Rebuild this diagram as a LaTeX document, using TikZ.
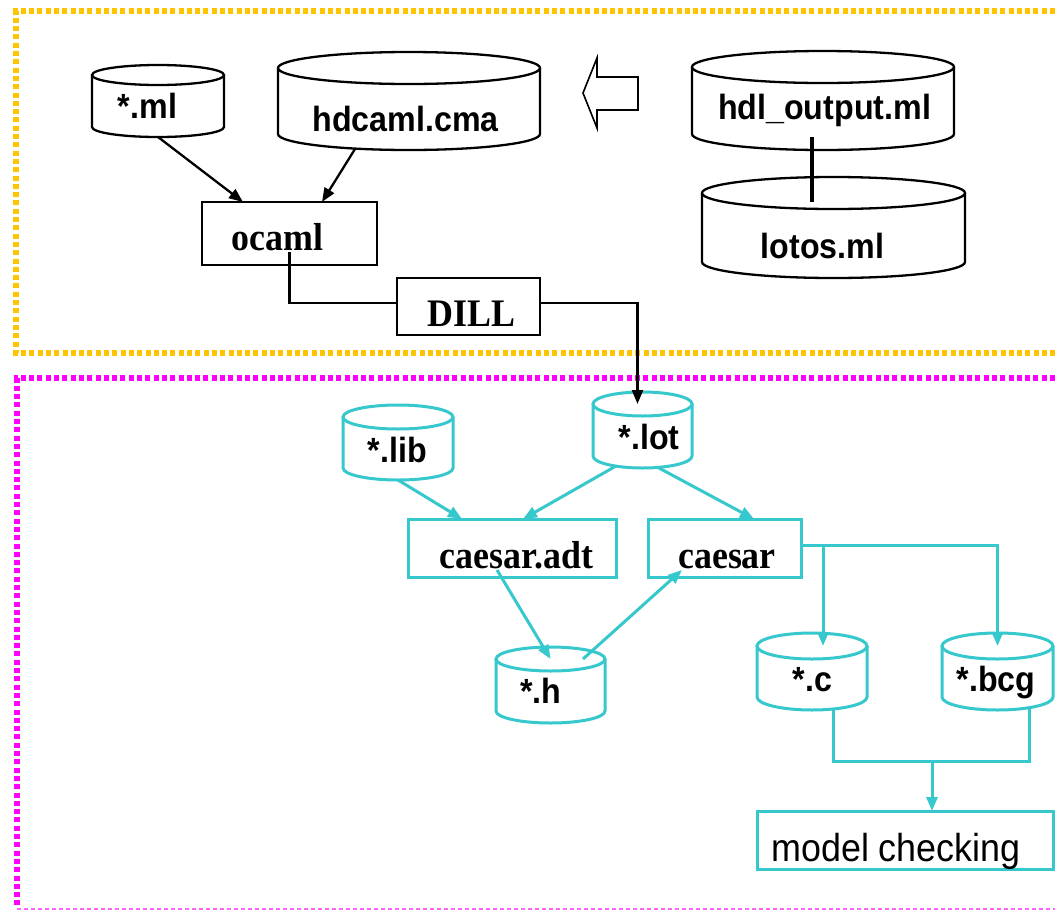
\documentclass[tikz,border=0pt]{standalone}
\usepackage{fontspec}
\setmainfont{Liberation Serif}
\newfontfamily\arialf{Liberation Sans}
\usetikzlibrary{arrows.meta}
\definecolor{cy}{RGB}{55,200,205}
\definecolor{orng}{RGB}{255,196,0}
\definecolor{mag}{RGB}{255,0,255}
\definecolor{magl}{RGB}{255,100,255}
\newcommand\af[1]{\scalebox{0.92}[1]{\arialf\bfseries\fontsize{35}{40}\selectfont #1}}
\newcommand\am[1]{\scalebox{0.92}[1]{\arialf\fontsize{39}{44}\selectfont #1}}
\newcommand\tf[1]{\scalebox{0.92}[1]{\bfseries\fontsize{39}{44}\selectfont #1}}
\newcommand\cyl[4]{%
  \draw[#4] (#1.north west) -- (#1.south west) arc[start angle=180,end angle=360,x radius=#2pt,y radius=#3pt] -- (#1.north east);
  \draw[#4] (#1.north) ellipse[x radius=#2pt,y radius=#3pt];}
\tikzset{
  body/.style={draw=none,inner sep=0pt,outer sep=0pt,rectangle},
  lbl/.style={inner sep=0pt,outer sep=0pt,anchor=base},
  bbox/.style={draw=black,line width=2.3pt,inner sep=0pt,outer sep=0pt,rectangle},
  cbox/.style={draw=cy,line width=3pt,inner sep=0pt,outer sep=0pt,rectangle},
  bline/.style={line width=2.3pt,draw=black},
  cline/.style={line width=3pt,draw=cy},
  barrow/.style={bline,-{Triangle[length=14pt,width=11pt]}},
  carrow/.style={cline,-{Triangle[length=14pt,width=11pt]}},
  odots/.style={draw=orng,line width=5.5pt,dash pattern=on 5pt off 3.3pt},
  mdots/.style={draw=mag,line width=5.5pt,dash pattern=on 5pt off 3.3pt},
}
\begin{document}
\begin{tikzpicture}[x=1pt,y=-1pt]
\useasboundingbox (0,0) rectangle (1055,911);
\fill[white] (0,0) rectangle (1055,911);
% frames
\draw[odots] (1055,11) -- (16,11) -- (16,353) -- (1055,353);
\draw[mdots] (1055,378) -- (17,378) -- (17,906);
\draw[draw=magl,line width=1.5pt,dash pattern=on 4pt off 3pt] (17,909) -- (1055,909);

% ---- top part ----
\node[body,minimum width=132pt,minimum height=52pt] (ml) at (158,101) {};
\cyl{ml}{66}{10}{bline}
\node[lbl] (mlt) at (147.5,118) {\af{*.ml}};

\node[body,minimum width=262pt,minimum height=66pt] (hdcaml) at (409,101) {};
\cyl{hdcaml}{131}{16}{bline}
\node[lbl] (hdcamlt) at (405.5,131) {\af{hdcaml.cma}};

\node[body,minimum width=262pt,minimum height=67pt] (hdl) at (823,100.5) {};
\cyl{hdl}{131}{16}{bline}
\node[lbl] (hdlt) at (824.5,119) {\af{hdl\_output.ml}};

\node[body,minimum width=263pt,minimum height=69pt] (lotos) at (833.5,227.5) {};
\cyl{lotos}{131.5}{16}{bline}
\node[lbl] (lotost) at (822.5,258) {\af{lotos.ml}};

\node[bbox,minimum width=175pt,minimum height=63pt] (ocaml) at (289.5,233.5) {};
\node[lbl] (ocamlt) at (277.5,250) {\tf{ocaml}};

\node[bbox,minimum width=143pt,minimum height=57pt] (dill) at (468.5,306.5) {};
\node[lbl] (dillt) at (471.5,326) {\tf{DILL}};

% hollow arrow
\draw[line width=1.6pt,fill=white,line join=miter] (583,93) -- (597,58) -- (597,77) -- (638,77) -- (638,110) -- (597,110) -- (597,128) -- cycle;

\draw[barrow] ([yshift=-10pt]ml.south) -- ([xshift=-46.5pt]ocaml.north);
\draw[barrow] ([xshift=-54pt,yshift=-15pt]hdcaml.south) -- ([xshift=32.5pt]ocaml.north);
\draw[line width=4.5pt] ([xshift=-11pt,yshift=-3pt]hdl.south) -- ([xshift=-21.5pt,yshift=-9pt]lotos.north);

% ---- bottom part ----
\node[body,minimum width=110pt,minimum height=51pt] (lib) at (398,442.5) {};
\cyl{lib}{55}{12}{cline}
\node[lbl] (libt) at (397.5,462) {\af{*.lib}};

\node[body,minimum width=99pt,minimum height=52pt] (lot) at (642.5,430) {};
\cyl{lot}{49.5}{12}{cline}
\node[lbl] (lott) at (649,449) {\af{*.lot}};

\node[body,minimum width=109pt,minimum height=52pt] (h) at (550.5,685) {};
\cyl{h}{54.5}{12}{cline}
\node[lbl] (ht) at (541,703) {\af{*.h}};

\node[body,minimum width=110pt,minimum height=51pt] (c) at (812,671.5) {};
\cyl{c}{55}{13}{cline}
\node[lbl] (ct) at (812.5,691) {\af{*.c}};

\node[body,minimum width=111pt,minimum height=51pt] (bcg) at (997.5,671.5) {};
\cyl{bcg}{55.5}{13}{cline}
\node[lbl] (bcgt) at (996,691) {\af{*.bcg}};

\node[cbox,minimum width=208pt,minimum height=58pt] (adt) at (512,548) {};
\node[lbl] (adtt) at (516.5,568) {\tf{caesar.adt}};

\node[cbox,minimum width=153pt,minimum height=58pt] (caesar) at (724.5,548) {};
\node[lbl] (caesart) at (727,568) {\tf{caesar}};

\node[cbox,minimum width=296pt,minimum height=58pt] (mc) at (905,840) {};
\node[lbl] (mct) at (896,861) {\am{model checking}};

% connectors
\draw[bline] ([yshift=-18.5pt]ocaml.center) |- ([yshift=3.5pt]dill.west);
\draw[barrow] ([yshift=3.5pt]dill.east) -| ([xshift=-5pt]lot.north);

\draw[carrow] ([yshift=-12pt]lib.south) -- ([xshift=-50pt]adt.north);
\draw[carrow] ([xshift=-26.5pt,yshift=-10pt]lot.south) -- ([xshift=11pt]adt.north);
\draw[carrow] ([xshift=15.5pt,yshift=-11.5pt]lot.south) -- ([xshift=29.5pt]caesar.north);
\draw[carrow] ([xshift=-15pt,yshift=-22pt]adt.center) -- (h.north);
\draw[carrow] ([xshift=32.5pt]h.north) -- ([xshift=-42.5pt,yshift=-22pt]caesar.center);

\coordinate (cout) at ([yshift=3pt]caesar.east);
\coordinate (split) at ([xshift=11pt]c.north |- cout);
\draw[carrow] (cout) -| (bcg.north);
\draw[carrow] (split) -- ([xshift=11pt]c.north);

\coordinate (jy) at (0,761);
\coordinate (join) at ([xshift=27pt]mc.north |- jy);
\draw[cline] ([xshift=21pt,yshift=-12pt]c.south) |- (join) -| ([xshift=31.5pt,yshift=-10.5pt]bcg.south);
\draw[carrow] (join) -- ([xshift=27pt]mc.north);
\end{tikzpicture}
\end{document}
